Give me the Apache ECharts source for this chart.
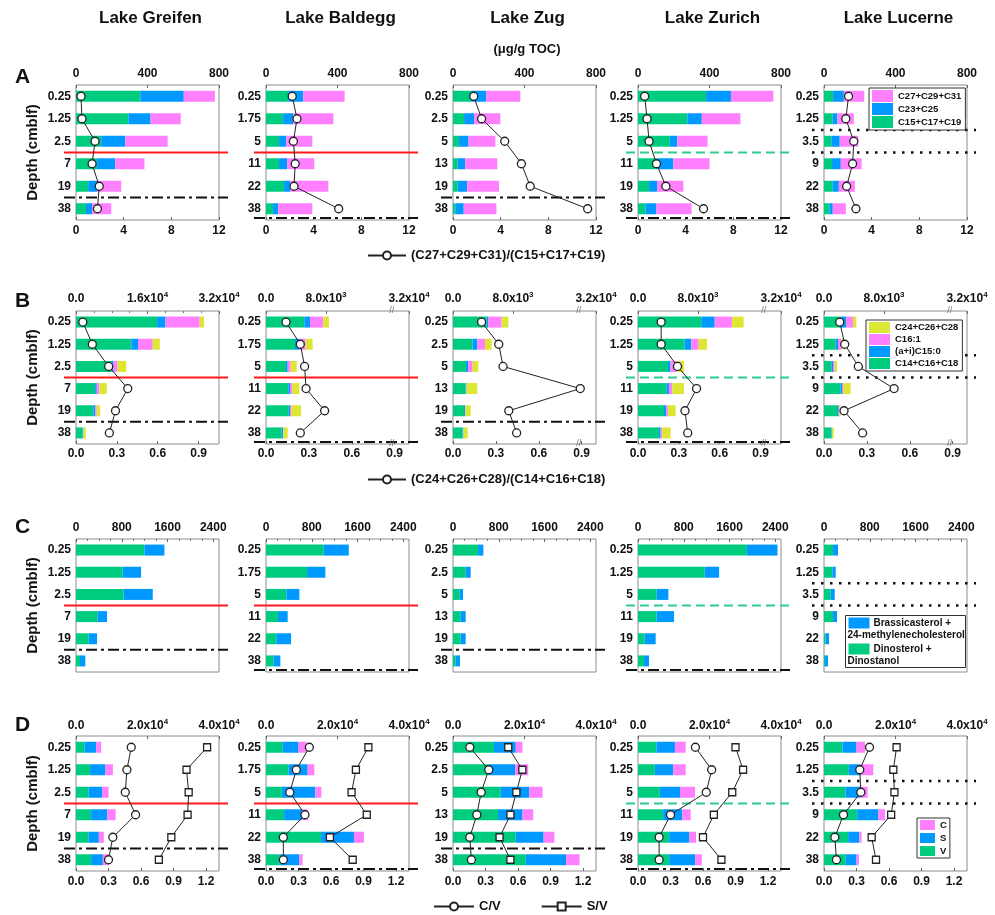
<!DOCTYPE html>
<html><head><meta charset="utf-8">
<script src="https://cdn.jsdelivr.net/npm/echarts@6/dist/echarts.min.js"></script>
<style>html,body{margin:0;padding:0;background:#fff}#c{width:995px;height:915px}</style>
</head><body><div id="c"></div>
<script>
const FONT = '"Liberation Sans", Arial, Helvetica, sans-serif';
const lakes = ['Lake Greifen', 'Lake Baldegg', 'Lake Zug', 'Lake Zurich', 'Lake Lucerne'];
const depthsGreifen = ['0.25', '1.25', '2.5', '7', '19', '38'];
const depthsBaldegg = ['0.25', '1.75', '5', '11', '22', '38'];
const depthsZug = ['0.25', '2.5', '5', '13', '19', '38'];
const depthsZurich = ['0.25', '1.25', '5', '11', '19', '38'];
const depthsLucerne = ['0.25', '1.25', '3.5', '9', '22', '38'];
const depths = [depthsGreifen, depthsBaldegg, depthsZug, depthsZurich, depthsLucerne];

// Panel A (µg/g TOC), one inner array per lake
const aC15C17C19 = [[360,293,141,118,68,56],[124,96,73,73,101,39],[101,62,34,26,26,13],[381,276,178,107,62,43],[51,49,41,45,49,30]];
const aC23C25 = [[243,124,135,102,50,34],[84,56,40,45,34,29],[85,56,53,42,53,47],[139,81,42,90,45,60],[60,26,47,49,34,19]];
const aC27C29C31 = [[174,169,237,163,135,107],[232,225,146,152,214,191],[191,147,150,180,178,183],[237,216,169,203,147,197],[114,92,104,116,90,73]];
const aRatio = [[0.42,0.5,1.6,1.35,1.95,1.8],[2.2,2.6,2.3,2.45,2.35,6.1],[1.74,2.4,4.34,5.74,6.48,11.3],[0.56,0.76,0.93,1.55,2.34,5.5],[2.06,1.83,2.5,2.4,1.9,2.68]];

// Panel B
const bC14C16C18 = [[18150,12380,8000,4280,3900,1500],[5110,3870,2670,2980,2980,2090],[4490,2620,1730,1690,1470,1290],[8440,6220,4000,3780,3470,2800],[2220,1560,980,2180,1740,980]];
const bAiC150 = [[1880,1500,400,370,380,100],[760,570,220,220,220,180],[220,620,310,90,130,90],[1790,890,310,350,310,220],[760,310,220,220,220,70]];
const bC161 = [[7650,3290,900,600,370,80],[1770,850,400,310,130,40],[1780,1030,580,40,40,30],[2300,980,800,450,220,220],[890,440,220,130,90,20]];
const bC24C26C28 = [[970,1580,1950,1650,750,500],[760,930,800,930,1340,580],[890,890,760,1420,720,550],[1560,1110,1020,1550,1020,1120],[440,310,320,1030,170,220]];
const bRatio = [[0.05,0.12,0.24,0.38,0.29,0.245],[0.14,0.24,0.27,0.28,0.41,0.24],[0.20,0.32,0.35,0.89,0.39,0.445],[0.17,0.17,0.29,0.43,0.345,0.365],[0.11,0.145,0.24,0.49,0.14,0.27]];

// Panel C
const cDinosterol = [[1196,817,834,379,222,70],[1010,718,356,210,181,134],[438,222,117,134,134,47],[1903,1167,327,327,117,105],[158,146,117,158,29,18]];
const cBrassicasterol = [[350,321,508,164,146,93],[437,320,227,169,257,117],[93,87,58,88,88,75],[536,251,204,303,192,88],[87,58,70,70,59,52]];

// Panel D
const dV = [[2350,3940,3470,4230,3470,4230],[4700,6290,4420,5070,15400,3760],[11460,10050,13330,12580,17560,20370],[5160,4700,6100,7040,8730,8730],[5160,6950,6010,9300,6760,6100]];
const dS = [[3280,4320,3850,4500,2910,3280],[4400,5350,9380,4980,9200,5540],[6100,7320,7990,6860,7790,11270],[5170,5160,5640,5360,5640,7230],[3950,3280,4040,5910,3100,3010]];
const dC = [[1410,2070,1790,2350,1410,1690],[2170,1880,1690,1590,2800,940],[1880,3670,3750,3000,3010,3760],[3000,3470,4220,2340,1880,1880],[2350,3570,2160,1880,660,660]];
const dCV = [[0.51,0.47,0.455,0.55,0.34,0.30],[0.40,0.28,0.22,0.36,0.16,0.16],[0.155,0.33,0.26,0.22,0.155,0.17],[0.53,0.68,0.63,0.30,0.195,0.195],[0.42,0.33,0.34,0.18,0.10,0.115]];
const dSV = [[1.21,1.02,1.04,1.03,0.88,0.765],[0.945,0.83,0.79,0.93,0.59,0.80],[0.51,0.64,0.585,0.53,0.43,0.53],[0.90,0.97,0.87,0.70,0.60,0.77],[0.67,0.64,0.65,0.62,0.44,0.48]];

// Tick labels
const aTopTicks = [0, 400, 800];
const aBotTicks = [0, 4, 8, 12];
const bTopTicksLinear = [0, 16000, 32000];
const bTopTicksBroken = [0, 8000, 32000];
const bBotTicks = [0, 0.3, 0.6, 0.9];
const cTopTicks = [0, 800, 1600, 2400];
const dTopTicks = [0, 20000, 40000];
const dBotTicks = [0, 0.3, 0.6, 0.9, 1.2];

// Layout / style
const gridLeft = [76, 266, 453, 638, 824];
const gridW = 143;
const rowTop = [85, 311, 539, 736];
const rowH = [135, 133, 133, 135];
const bBotMax = [1.05, 1.0, 1.0, 1.05, 1.0];
const GREEN = '#00cc80', BLUE = '#0099ff', PINK = '#ff80ff', YELLOW = '#dde633';

const labelBase = {color: '#111', fontWeight: 'bold', fontSize: 12, fontFamily: FONT};
const rich = {
  m: Object.assign({}, labelBase, {lineHeight: 14, verticalAlign: 'bottom'}),
  e: Object.assign({}, labelBase, {fontSize: 8, lineHeight: 6, verticalAlign: 'top'})
};
function sci(v) {
  if (v === 0) return '0.0';
  const e = Math.floor(Math.log10(v) + 1e-9);
  const m = v / Math.pow(10, e);
  return '{m|' + m.toFixed(1) + 'x10}{e|' + e + '}';
}
function fix1(v) { return v.toFixed(1); }
function plain(v) { return String(v); }

function valueAxis(gi, pos, max, ticks, fmt, margin, extra) {
  return Object.assign({
    type: 'value', gridIndex: gi, position: pos, min: 0, max: max,
    interval: ticks[1] - ticks[0],
    axisLine: {show: false},
    splitLine: {show: false},
    axisTick: {show: true, inside: true, length: 3, lineStyle: {color: '#666'}, customValues: ticks},
    axisLabel: Object.assign({}, labelBase, {margin: margin, formatter: fmt, customValues: ticks, rich: rich}),
  }, extra || {});
}
function bar(name, color, gi, xi, data) {
  return {type: 'bar', name: name, xAxisIndex: xi, yAxisIndex: gi, stack: 'st' + gi, data: data,
    barWidth: 11, itemStyle: {color: color}, emphasis: {disabled: true}, silent: true};
}
function ratioLine(name, gi, xi, data, symbol, size) {
  return {type: 'line', name: name, xAxisIndex: xi, yAxisIndex: gi, data: data, symbol: symbol,
    symbolSize: size, showAllSymbol: true, lineStyle: {color: '#222', width: 1},
    itemStyle: {color: '#fff', borderColor: '#222', borderWidth: 1.3}, z: 5,
    emphasis: {disabled: true}, silent: true};
}

const grids = [], xAxis = [], yAxis = [], series = [];
const topAxisIdx = [];
for (let r = 0; r < 4; r++) {
  for (let c = 0; c < 5; c++) {
    const gi = r * 5 + c;
    grids.push({left: gridLeft[c], top: rowTop[r], width: gridW, height: rowH[r], show: true,
      borderColor: '#8c8c8c', borderWidth: 1});
    yAxis.push({type: 'category', gridIndex: gi, inverse: true, data: depths[c],
      axisLine: {show: false}, axisTick: {show: false}, splitLine: {show: false},
      axisLabel: Object.assign({}, labelBase, {margin: 5}),
      name: c === 0 ? 'Depth (cmblf)' : '', nameLocation: 'middle', nameGap: 36, nameRotate: 90,
      nameTextStyle: Object.assign({}, labelBase, {fontSize: 15})});
    const ti = xAxis.length;
    topAxisIdx.push(ti);
    if (r === 0) {
      xAxis.push(valueAxis(gi, 'top', 800, aTopTicks, plain, 5));
      const bi = xAxis.length;
      xAxis.push(valueAxis(gi, 'bottom', 12, aBotTicks, plain, 5));
      series.push(bar('C15+C17+C19', GREEN, gi, ti, aC15C17C19[c]));
      series.push(bar('C23+C25', BLUE, gi, ti, aC23C25[c]));
      series.push(bar('C27+C29+C31', PINK, gi, ti, aC27C29C31[c]));
      series.push(ratioLine('(C27+C29+C31)/(C15+C17+C19)', gi, bi, aRatio[c], 'circle', 8));
    } else if (r === 1) {
      if (c === 0) {
        xAxis.push(valueAxis(gi, 'top', 32000, bTopTicksLinear, sci, 6,
          {minorTick: {show: true, splitNumber: 4, length: 2, lineStyle: {color: '#777'}}}));
      } else {
        xAxis.push(valueAxis(gi, 'top', 32000, bTopTicksBroken, sci, 6, {
          breaks: [{start: 16500, end: 30000, gap: '3%'}],
          breakArea: {show: false}
        }));
      }
      const bi = xAxis.length;
      xAxis.push(valueAxis(gi, 'bottom', bBotMax[c], bBotTicks, fix1, 4));
      series.push(bar('C14+C16+C18', GREEN, gi, ti, bC14C16C18[c]));
      series.push(bar('(a+i)C15:0', BLUE, gi, ti, bAiC150[c]));
      series.push(bar('C16:1', PINK, gi, ti, bC161[c]));
      series.push(bar('C24+C26+C28', YELLOW, gi, ti, bC24C26C28[c]));
      series.push(ratioLine('(C24+C26+C28)/(C14+C16+C18)', gi, bi, bRatio[c], 'circle', 8));
    } else if (r === 2) {
      xAxis.push(valueAxis(gi, 'top', 2500, cTopTicks, plain, 5,
        {minorTick: {show: true, splitNumber: 4, length: 2, lineStyle: {color: '#777'}}}));
      series.push(bar('Dinosterol + Dinostanol', GREEN, gi, ti, cDinosterol[c]));
      series.push(bar('Brassicasterol + 24-methylenecholesterol', BLUE, gi, ti, cBrassicasterol[c]));
    } else {
      xAxis.push(valueAxis(gi, 'top', 40000, dTopTicks, sci, 4));
      const bi = xAxis.length;
      xAxis.push(valueAxis(gi, 'bottom', 1.32, dBotTicks, fix1, 5));
      series.push(bar('V', GREEN, gi, ti, dV[c]));
      series.push(bar('S', BLUE, gi, ti, dS[c]));
      series.push(bar('C', PINK, gi, ti, dC[c]));
      series.push(ratioLine('C/V', gi, bi, dCV[c], 'circle', 8));
      series.push(ratioLine('S/V', gi, bi, dSV[c], 'rect', 7));
    }
  }
}

const legText = Object.assign({}, labelBase, {fontSize: 9.5});
const boxLegend = {orient: 'vertical', selectedMode: false, icon: 'rect', borderColor: '#333', borderWidth: 1,
  backgroundColor: '#fff', textStyle: legText, z: 10, itemGap: 1, padding: [2, 4, 2, 3]};
const legends = [
  Object.assign({}, boxLegend, {data: ['C27+C29+C31', 'C23+C25', 'C15+C17+C19'], left: 869, top: 88, itemWidth: 21, itemHeight: 12}),
  Object.assign({}, boxLegend, {data: ['C24+C26+C28', 'C16:1', '(a+i)C15:0', 'C14+C16+C18'], left: 866, top: 320, itemWidth: 21, itemHeight: 11}),
  Object.assign({}, boxLegend, {data: ['C', 'S', 'V'], left: 917, top: 818, itemWidth: 15, itemHeight: 10, itemGap: 3, padding: [2, 3, 2, 3]}),
  {data: ['(C27+C29+C31)/(C15+C17+C19)'], left: 362, top: 244, itemWidth: 38, itemHeight: 10, selectedMode: false, textStyle: Object.assign({}, labelBase, {fontSize: 13})},
  {data: ['(C24+C26+C28)/(C14+C16+C18)'], left: 362, top: 468, itemWidth: 38, itemHeight: 10, selectedMode: false, textStyle: Object.assign({}, labelBase, {fontSize: 13})},
  {data: ['C/V', 'S/V'], left: 428, top: 895, itemWidth: 40, itemHeight: 10, itemGap: 40, selectedMode: false, textStyle: Object.assign({}, labelBase, {fontSize: 13})}
];

const titleStyle = Object.assign({}, labelBase, {fontSize: 17});
const titles = lakes.map((t, c) => ({text: t, left: gridLeft[c] + gridW / 2 - 2, top: 5, textAlign: 'center', textStyle: titleStyle}));
titles.push({text: '(μg/g TOC)', left: 522, top: 38, textAlign: 'center', textStyle: Object.assign({}, labelBase, {fontSize: 13})});
[['A', 62], ['B', 286], ['C', 512], ['D', 710]].forEach(p => titles.push({text: p[0], left: 10, top: p[1], textStyle: Object.assign({}, labelBase, {fontSize: 21})}));

const chart = echarts.init(document.getElementById('c'));
chart.setOption({
  animation: false,
  backgroundColor: '#fff',
  title: titles,
  legend: legends,
  grid: grids,
  xAxis: xAxis,
  yAxis: yAxis,
  series: series
});

// Horizontal event lines at depth-category boundaries
const lineStyles = {
  red: {stroke: '#ff1a1a', lineWidth: 2},
  dashdot: {stroke: '#111', lineWidth: 2, lineDash: [11, 4, 3, 4]},
  green: {stroke: '#2ecc8f', lineWidth: 2, lineDash: [9, 5]},
  dot: {stroke: '#111', lineWidth: 2.5, lineDash: [2.5, 6.5]}
};
const lakeLines = [[['red', 3], ['dashdot', 5]], [['red', 3], ['dashdot', 6]], [['dashdot', 5]], [['green', 3], ['dashdot', 6]], [['dot', 2], ['dot', 3]]];
const graphics = [];
for (let r = 0; r < 4; r++) {
  for (let c = 0; c < 5; c++) {
    const gi = r * 5 + c;
    const ys = depths[c].map(v => chart.convertToPixel({yAxisIndex: gi}, v));
    const step = ys[1] - ys[0];
    lakeLines[c].forEach(l => {
      let y = ys[0] - step / 2 + l[1] * step;
      if (l[1] === 6) y -= 2;
      graphics.push({type: 'line', silent: true, z: 3,
        shape: {x1: gridLeft[c] - 12, y1: y, x2: gridLeft[c] + gridW + 9, y2: y},
        style: Object.assign({fill: null}, lineStyles[l[0]])});
    });
    if (r === 1 && c > 0) {
      const xa = chart.convertToPixel({xAxisIndex: topAxisIdx[gi]}, 16500);
      const xb = chart.convertToPixel({xAxisIndex: topAxisIdx[gi]}, 30000);
      const xm = (xa + xb) / 2;
      [rowTop[r], rowTop[r] + rowH[r]].forEach(yy => graphics.push({type: 'text', silent: true, z: 4,
        x: xm, y: yy, style: {text: '//', fill: '#777', font: '9px ' + FONT, align: 'center', verticalAlign: 'middle'}}));
    }
  }
}

// Key for panel C (two-line entries wrapping under the swatch)
const keyFont = 'bold 10px ' + FONT;
graphics.push({type: 'group', left: 845, top: 615, z: 10, silent: true, children: [
  {type: 'rect', shape: {x: 0, y: 0, width: 120, height: 52}, style: {fill: '#fff', stroke: '#333', lineWidth: 1}},
  {type: 'rect', shape: {x: 3, y: 2, width: 21, height: 11}, style: {fill: BLUE}},
  {type: 'text', x: 28, y: 7.5, style: {text: 'Brassicasterol +', font: keyFont, fill: '#111', verticalAlign: 'middle'}},
  {type: 'text', x: 2, y: 20, style: {text: '24-methylenecholesterol', font: keyFont, fill: '#111', verticalAlign: 'middle'}},
  {type: 'rect', shape: {x: 3, y: 28, width: 21, height: 11}, style: {fill: GREEN}},
  {type: 'text', x: 28, y: 33.5, style: {text: 'Dinosterol +', font: keyFont, fill: '#111', verticalAlign: 'middle'}},
  {type: 'text', x: 2, y: 45.5, style: {text: 'Dinostanol', font: keyFont, fill: '#111', verticalAlign: 'middle'}}
]});
chart.setOption({graphic: graphics});
</script></body></html>
